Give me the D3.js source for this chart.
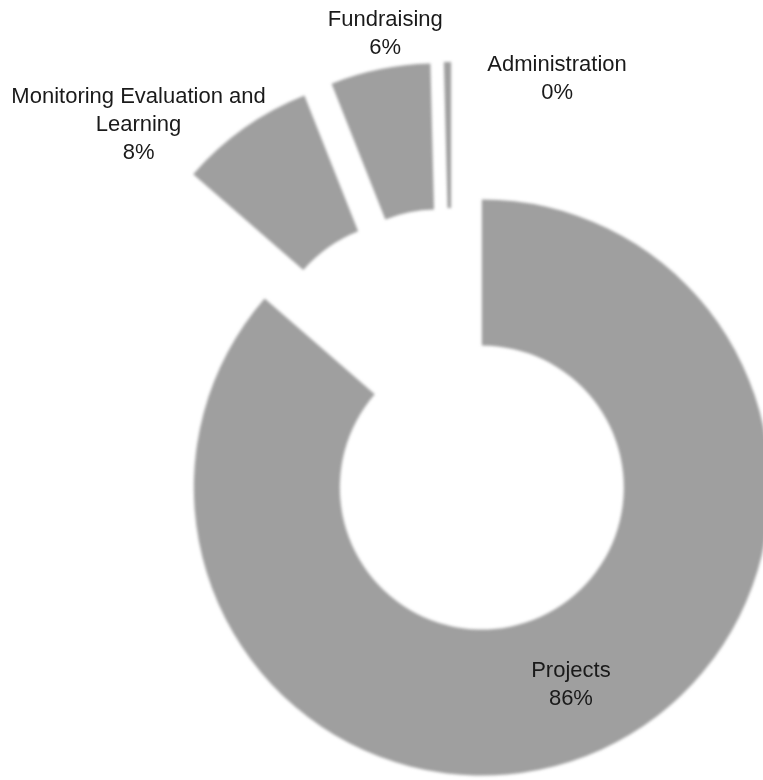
<!DOCTYPE html>
<html>
<head>
<meta charset="utf-8">
<script src="https://cdn.jsdelivr.net/npm/d3@7"></script>
<style>
  body { margin: 0; background: #fff; }
  text { font-family: "Liberation Sans", Arial, sans-serif; font-size: 22px; fill: #1a1a1a; }
</style>
</head>
<body>
<svg width="763" height="780"></svg>
<script>
// slice data, clockwise from 12 o'clock
var categories = ["Projects", "Monitoring Evaluation and Learning", "Fundraising", "Administration"];
var values = [86.4, 7.6, 5.6, 0.4];
var labelLines = [["Projects"], ["Monitoring Evaluation and", "Learning"], ["Fundraising"], ["Administration"]];

var svg = d3.select("svg"),
  cx = 452, cy = 422,
  outer = 288, inner = 142,
  pull = 72,
  lineH = 28;

// where the outside labels sit: angle (deg, clockwise from top) and distance from the pulled slice centre
var labelPlace = {
  "Monitoring Evaluation and Learning": {angle: 311.5, radius: 363},
  "Fundraising": {angle: 350.7, radius: 324},
  "Administration": {angle: 21.2, radius: 293}
};

var defs = svg.append("defs");
defs.append("filter")
  .attr("id", "soft")
  .attr("x", "-10%").attr("y", "-10%").attr("width", "120%").attr("height", "120%")
  .append("feGaussianBlur")
  .attr("stdDeviation", 1.4);

var pie = d3.pie()
  .sort(null)
  .value(function(d) { return d; });

var arcs = pie(values);

var arc = d3.arc()
  .innerRadius(inner)
  .outerRadius(outer);

function offset(d) {
  var mid = (d.startAngle + d.endAngle) / 2;
  return [cx + pull * Math.sin(mid), cy - pull * Math.cos(mid)];
}

var g = svg.append("g").attr("filter", "url(#soft)");

g.selectAll("path")
  .data(arcs)
  .enter().append("path")
  .attr("transform", function(d) { var o = offset(d); return "translate(" + o[0] + "," + o[1] + ")"; })
  .attr("d", arc)
  .attr("fill", "#9f9f9f");

var labels = svg.append("g");

arcs.forEach(function(d, i) {
  var o = offset(d), x, y;
  var place = labelPlace[categories[i]];
  if (place) {
    var a = place.angle * Math.PI / 180;
    x = o[0] + place.radius * Math.sin(a);
    y = o[1] - place.radius * Math.cos(a);
  } else {
    var c = arc.centroid(d);
    x = o[0] + c[0];
    y = o[1] + c[1];
  }
  var lines = labelLines[i].concat([Math.round(values[i]) + "%"]);
  var t = labels.append("text")
    .attr("text-anchor", "middle")
    .attr("x", x)
    .attr("y", y - (lines.length - 1) * lineH / 2 + 8);
  lines.forEach(function(s, k) {
    t.append("tspan")
      .attr("x", x)
      .attr("dy", k === 0 ? 0 : lineH)
      .text(s);
  });
});
</script>
</body>
</html>
